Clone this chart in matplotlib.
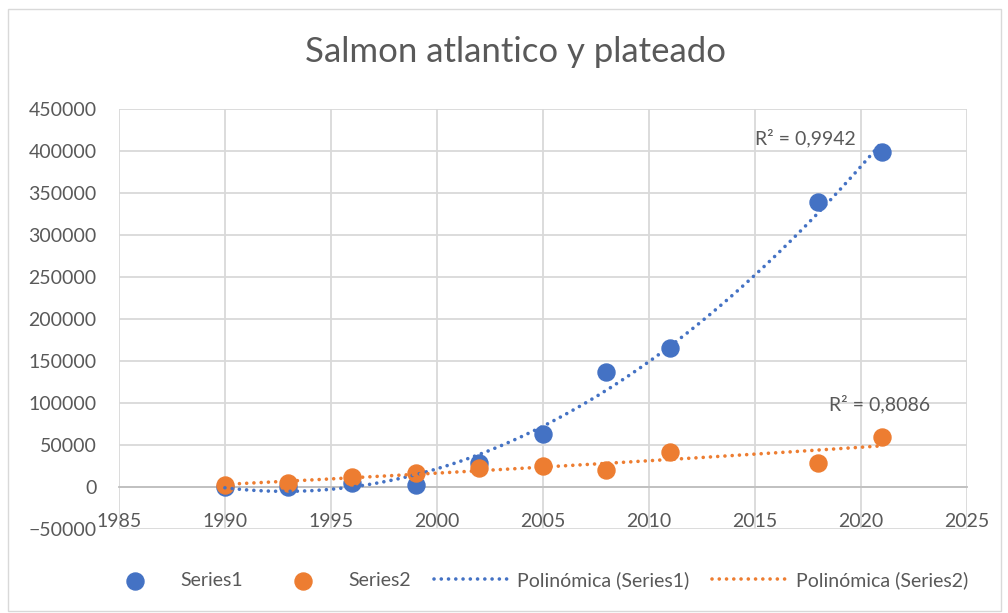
import numpy as np
import matplotlib.pyplot as plt
from matplotlib.patches import Rectangle

plt.rcParams['font.family'] = ['Lato', 'DejaVu Sans']

# data
years = [1990, 1993, 1996, 1999, 2002, 2005, 2008, 2011, 2018, 2021]
series1 = [500, -500, 5000, 3000, 29000, 63000, 137000, 165500, 339000, 398500]
series2 = [2500, 5000, 11500, 17000, 23000, 25000, 20000, 41500, 28500, 59500]
r2_labels = ['R² = 0,9942', 'R² = 0,8086']
xticks = [1985, 1990, 1995, 2000, 2005, 2010, 2015, 2020, 2025]
yticks = list(range(-50000, 450001, 50000))

blue = '#4472C4'
orange = '#ED7D31'
txt = '#595959'
grid = '#D9D9D9'

fig = plt.figure(figsize=(10.08, 6.13), dpi=100)
fig.patches.append(Rectangle((0.008, 0.003), 0.985, 0.982, transform=fig.transFigure,
                             fill=False, edgecolor=grid, linewidth=1))
ax = fig.add_axes([0.118, 0.137, 0.841, 0.685])

x = np.array(years, dtype=float)
xs = np.linspace(x.min(), x.max(), 300)

ax.scatter(years, series1, s=150, color=blue, zorder=3, label='Series1')
ax.scatter(years, series2, s=150, color=orange, zorder=3, label='Series2')

# polynomial (order 2) trendlines like Excel
for vals, col, name in [(series1, blue, 'Polinómica (Series1)'),
                        (series2, orange, 'Polinómica (Series2)')]:
    p = np.polyfit(x - 2000, vals, 2)
    ax.plot(xs, np.polyval(p, xs - 2000), color=col, lw=2.6,
            linestyle=(0, (0.01, 2.0)), dash_capstyle='round', zorder=4, label=name)

ax.text(2017.4, 415000, r2_labels[0], fontsize=14, color=txt, ha='center', va='center')
ax.text(2020.9, 99000, r2_labels[1], fontsize=14, color=txt, ha='center', va='center')

ax.set_xlim(1985, 2025)
ax.set_ylim(-50000, 450000)
ax.set_xticks(xticks)
ax.set_yticks(yticks)
ax.grid(True, color=grid, linewidth=1.3)
ax.set_axisbelow(True)
for s in ['top', 'right', 'left']:
    ax.spines[s].set_visible(False)
ax.spines['bottom'].set_position(('data', 0))
ax.spines['bottom'].set_color('#BFBFBF')
ax.spines['bottom'].set_linewidth(1.3)
ax.tick_params(axis='both', length=0, labelsize=14, labelcolor=txt)
ax.tick_params(axis='x', pad=19)
ax.tick_params(axis='y', pad=16)

fig.text(0.511, 0.915, 'Salmon atlantico y plateado', fontsize=25, color=txt,
         ha='center', va='center')

fig.legend(loc='center', bbox_to_anchor=(0.528, 0.054), ncol=4, frameon=False,
           fontsize=14, labelcolor=txt, handlelength=3.9, columnspacing=1.15,
           handletextpad=0.4)

fig.savefig('out.png', dpi=100)
